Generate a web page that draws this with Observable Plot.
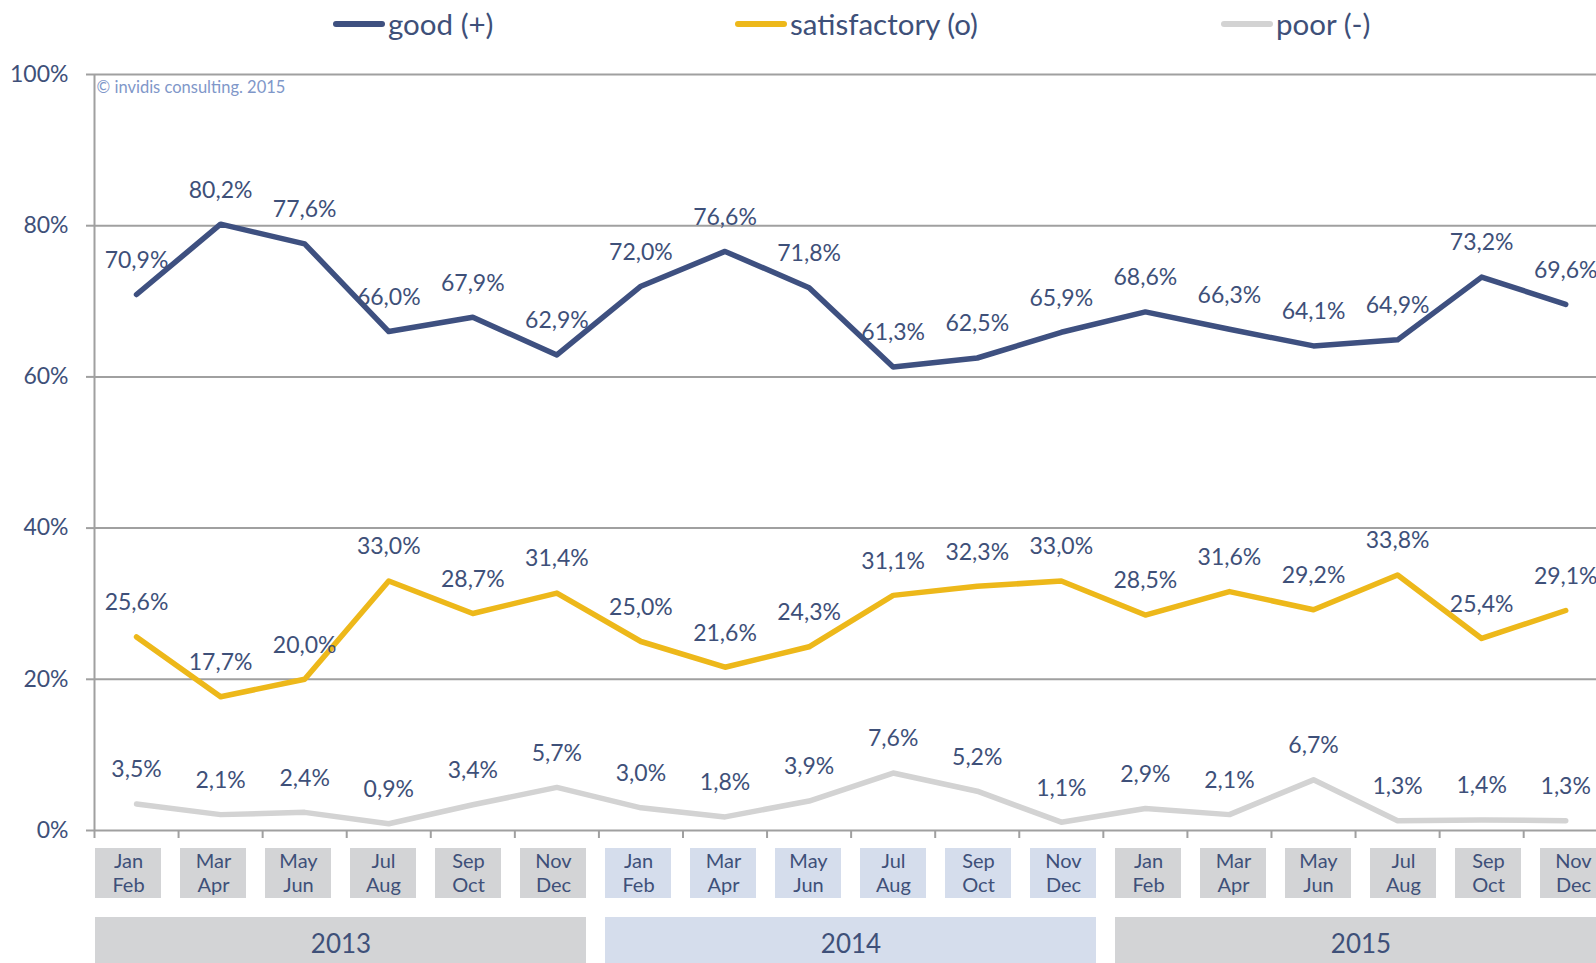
<!DOCTYPE html>
<html>
<head>
<meta charset="utf-8">
<script src="https://cdn.jsdelivr.net/npm/d3@7"></script>
<script src="https://cdn.jsdelivr.net/npm/@observablehq/plot@0.6"></script>
<style>
  html, body { margin: 0; padding: 0; background: #fff; overflow: hidden; }
  body { width: 1596px; height: 963px; font-family: Lato, "Open Sans", sans-serif; color: #3E5079; }
  #legend { position: relative; height: 50px; width: 1596px; }
  .item { position: absolute; top: 5px; display: flex; align-items: center; font-size: 29.5px; line-height: 38px; }
  .sw { width: 52px; height: 6px; border-radius: 3px; margin-right: 3px; }
  svg { display: block; overflow: visible; }
</style>
</head>
<body>
<div id="legend"></div>
<div id="main"></div>
<div id="boxes"></div>
<script>
// ---- data ----
const years = ["2013", "2014", "2015"];
const periods = ["Jan\nFeb", "Mar\nApr", "May\nJun", "Jul\nAug", "Sep\nOct", "Nov\nDec"];
const seriesNames = ["good (+)", "satisfactory (o)", "poor (-)"];
const good = [70.9, 80.2, 77.6, 66.0, 67.9, 62.9, 72.0, 76.6, 71.8, 61.3, 62.5, 65.9, 68.6, 66.3, 64.1, 64.9, 73.2, 69.6];
const satisfactory = [25.6, 17.7, 20.0, 33.0, 28.7, 31.4, 25.0, 21.6, 24.3, 31.1, 32.3, 33.0, 28.5, 31.6, 29.2, 33.8, 25.4, 29.1];
const poor = [3.5, 2.1, 2.4, 0.9, 3.4, 5.7, 3.0, 1.8, 3.9, 7.6, 5.2, 1.1, 2.9, 2.1, 6.7, 1.3, 1.4, 1.3];
const yTicks = [0, 20, 40, 60, 80, 100];
const caption = "© invidis consulting. 2015";

// ---- styles ----
const colors = {"good (+)": "#3E5080", "satisfactory (o)": "#EDB81A", "poor (-)": "#D3D3D3"};
const yearFill = {"2013": "#D3D4D6", "2014": "#D5DDEC", "2015": "#D3D4D6"};
const textColor = "#3E5079";
const gridColor = "#A0A0A0";
const font = "Lato, 'Open Sans', sans-serif";

// ---- build tables ----
const cats = [];
years.forEach(y => periods.forEach(p => cats.push({year: y, period: p})));
cats.forEach((c, i) => c.i = i);
const rows = [];
[good, satisfactory, poor].forEach((arr, s) => arr.forEach((v, i) => rows.push({series: seriesNames[s], i, v})));
const fmt = v => v.toFixed(1).replace(".", ",") + "%";

// ---- legend ----
const legendLeft = {"good (+)": 333, "satisfactory (o)": 735, "poor (-)": 1221};
const legend = document.getElementById("legend");
seriesNames.forEach(n => {
  const d = document.createElement("div");
  d.className = "item";
  d.style.left = legendLeft[n] + "px";
  d.innerHTML = `<span class="sw" style="background:${colors[n]}"></span><span>${n}</span>`;
  legend.appendChild(d);
});

// ---- main chart ----
const n = cats.length;
const main = Plot.plot({
  width: 1596,
  height: 790,
  marginLeft: 94,
  marginRight: 1596 - (94 + n * 84.07),
  marginTop: 24,
  marginBottom: 10,
  style: {fontFamily: font, color: textColor, background: "transparent", overflow: "visible"},
  x: {type: "linear", domain: [-0.5, n - 0.5]},
  y: {domain: [0, 100]},
  marks: [
    Plot.gridY(yTicks, {stroke: gridColor, strokeOpacity: 1, strokeWidth: 2}),
    Plot.ruleX([-0.5], {stroke: gridColor, strokeWidth: 2}),
    Plot.axisY(yTicks, {tickFormat: d => d + "%", tickSize: 8, tickPadding: 18, fontSize: 23, stroke: gridColor, strokeWidth: 2, fill: textColor, label: null}),
    Plot.axisX(d3.range(n + 1).map(i => i - 0.5), {tickSize: 8, tickFormat: () => "", stroke: gridColor, strokeWidth: 2, label: null}),
    Plot.line(rows, {x: "i", y: "v", z: "series", stroke: d => colors[d.series], strokeWidth: 5.5, strokeLinecap: "round", strokeLinejoin: "round"}),
    Plot.text(rows, {x: "i", y: "v", text: d => fmt(d.v), dy: -34, fontSize: 23, fill: textColor}),
    Plot.text([caption], {frameAnchor: "top-left", dx: 2, dy: 13, lineAnchor: "middle", textAnchor: "start", fontSize: 16.5, fill: "#7F97C9"})
  ]
});
document.getElementById("main").appendChild(main);

// ---- category boxes ----
const yearSpans = years.map(y => {
  const idx = cats.filter(c => c.year === y).map(c => c.i);
  return {year: y, start: d3.min(idx), end: d3.max(idx) + 1};
});
const boxes = Plot.plot({
  width: 1596,
  height: 123,
  marginLeft: 95,
  marginRight: 1596 - (95 + n * 85),
  marginTop: 0,
  marginBottom: 0,
  style: {fontFamily: font, color: textColor, background: "transparent", overflow: "visible"},
  x: {type: "linear", domain: [0, n], axis: null},
  y: {type: "band", domain: ["period", "year"], range: [6.7, 127.7], paddingInner: 0.27, paddingOuter: 0, axis: null},
  marks: [
    Plot.barX(cats, {x1: "i", x2: d => d.i + 1, y: () => "period", fill: d => yearFill[d.year], insetRight: 19}),
    Plot.text(cats, {x: d => d.i + 0.5, y: () => "period", text: "period", dx: -9.5, dy: -1.5, fontSize: 20, lineHeight: 1.22, fill: textColor}),
    Plot.barX(yearSpans, {x1: "start", x2: "end", y: () => "year", fill: d => yearFill[d.year], insetRight: 19}),
    Plot.text(yearSpans, {x: d => (d.start + d.end) / 2, y: () => "year", text: "year", dx: -9.5, dy: 2, fontSize: 26, fill: textColor})
  ]
});
document.getElementById("boxes").appendChild(boxes);
</script>
</body>
</html>
